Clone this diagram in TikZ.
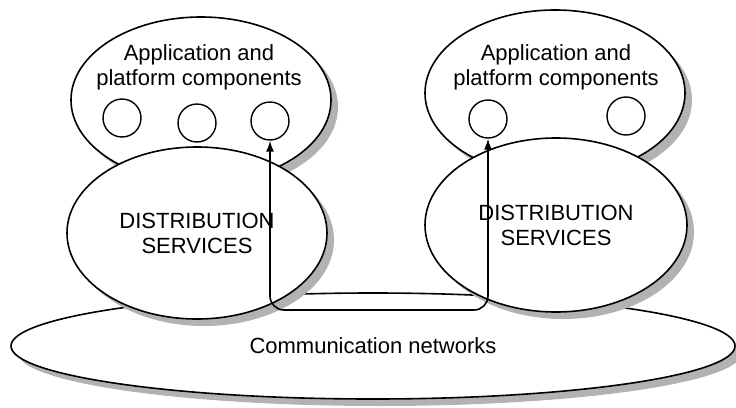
\documentclass[tikz,border=0pt]{standalone}
\usepackage{fontspec}
\setmainfont{Liberation Sans}
\usetikzlibrary{shapes.geometric,arrows.meta}
\definecolor{shadowgray}{RGB}{178,178,178}
\begin{document}
\begin{tikzpicture}[x=1pt,y=-1pt,
  blob/.style={ellipse, draw=black, line width=1.6pt, fill=white, inner sep=0pt},
  shadowfill/.style={fill=shadowgray, draw=none},
  comp/.style={circle, draw=black, line width=1.4pt, fill=white, minimum size=38pt, inner sep=0pt},
  lbl/.style={align=center, font=\fontsize{22}{25}\selectfont, inner sep=0pt},
  conn/.style={line width=1.6pt, rounded corners=14pt, {Latex[length=11pt,width=8pt]}-{Latex[length=11pt,width=8pt]}}
]
\useasboundingbox (0,0) rectangle (736,407);
% top ellipses
\path[shadowfill] (208,107) ellipse (130pt and 83pt);
\node[blob, minimum width=260pt, minimum height=166pt] (appL) at (201,100) {};
\path[shadowfill] (562,100) ellipse (130pt and 83pt);
\node[blob, minimum width=260pt, minimum height=166pt] (appR) at (555,93) {};
\node[lbl] (tL) at (199,67) {Application and\\platform components};
\node[lbl] (tR) at (556,67) {Application and\\platform components};
\node[comp] (c1) at (122,118) {};
\node[comp] (c2) at (197,123) {};
\node[comp] (c3) at (270,121) {};
\node[comp] (c4) at (488,119) {};
\node[comp] (c5) at (626,116) {};
% network
\path[shadowfill] (380,353) ellipse (362pt and 53pt);
\node[blob, lbl, minimum width=724pt, minimum height=106pt] (net) at (373,346) {Communication networks};
% distribution services
\path[shadowfill] (204,240) ellipse (130pt and 86pt);
\node[blob, lbl, minimum width=260pt, minimum height=172pt] (dL) at (197,233) {DISTRIBUTION\\SERVICES};
\path[shadowfill] (563,232) ellipse (131pt and 87pt);
\node[blob, lbl, minimum width=262pt, minimum height=174pt] (dR) at (556,225) {DISTRIBUTION\\SERVICES};
% connector
\coordinate (bl) at (c3.south |- 0,310);
\coordinate (br) at (c4.south |- 0,310);
\draw[conn] (c3.south) -- (bl) -- (br) -- (c4.south);
\end{tikzpicture}
\end{document}
